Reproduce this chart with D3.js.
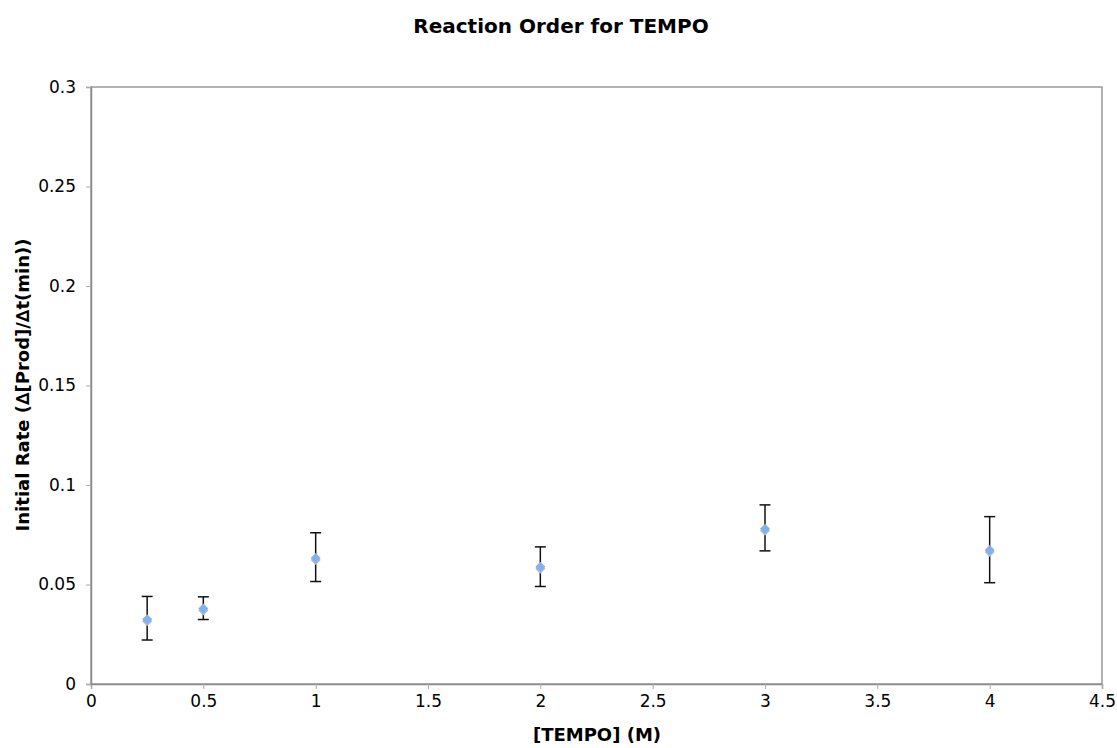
<!DOCTYPE html>
<html><head><meta charset="utf-8">
<script src="https://cdn.jsdelivr.net/npm/d3@7"></script>
<style>body{margin:0;background:#fff}svg{display:block}text{font-family:"DejaVu Sans",Verdana,sans-serif}</style>
</head><body>
<svg id="c" width="1117" height="748"></svg>
<script>
const concentrations = [0.25, 0.5, 1, 2, 3, 4];
const rates = [0.0326, 0.038, 0.0633, 0.0589, 0.078, 0.0673];
const errUpper = [0.044, 0.0438, 0.076, 0.0689, 0.090, 0.0841];
const errLower = [0.0221, 0.0324, 0.0515, 0.049, 0.0669, 0.0509];
const xTicks = [0, 0.5, 1, 1.5, 2, 2.5, 3, 3.5, 4, 4.5];
const yTicks = [0, 0.05, 0.1, 0.15, 0.2, 0.25, 0.3];

const svg = d3.select("#c");
const L = 91, R = 1102, T = 87, B = 684;
const x = d3.scaleLinear().domain([0, 4.5]).range([L, R]);
const y = d3.scaleLinear().domain([0, 0.3]).range([B, T]);

svg.append("rect").attr("x", L).attr("y", T).attr("width", R - L).attr("height", B - T)
  .attr("fill", "none").attr("stroke", "#999").attr("stroke-width", 1.5);

const xa = svg.append("g").attr("transform", `translate(0,${B})`)
  .call(d3.axisBottom(x).tickValues(xTicks).tickFormat(d => String(d)).tickSizeOuter(0).tickSize(5).tickPadding(6));
const ya = svg.append("g").attr("transform", `translate(${L},0)`)
  .call(d3.axisLeft(y).tickValues(yTicks).tickFormat(d => String(d)).tickSizeOuter(0).tickSize(5).tickPadding(10));
[xa, ya].forEach(a => {
  a.selectAll("path").attr("stroke", "#8c8c8c").attr("stroke-width", 1.5);
  a.selectAll("line").attr("stroke", "#aaa");
  a.selectAll("text").attr("font-size", 17).attr("fill", "#000").attr("font-family", "DejaVu Sans");
});

const data = concentrations.map((c, i) => ({c, r: rates[i], hi: errUpper[i], lo: errLower[i]}));
const g = svg.append("g");
g.selectAll("line.v").data(data).join("line")
  .attr("x1", d => x(d.c)).attr("x2", d => x(d.c)).attr("y1", d => y(d.hi)).attr("y2", d => y(d.lo))
  .attr("stroke", "#111").attr("stroke-width", 1.5);
["hi", "lo"].forEach(k => {
  g.selectAll("line." + k).data(data).join("line")
    .attr("x1", d => x(d.c) - 5.5).attr("x2", d => x(d.c) + 5.5).attr("y1", d => y(d[k])).attr("y2", d => y(d[k]))
    .attr("stroke", "#111").attr("stroke-width", 1.5);
});
const diamond = "M0,-5L5,0L0,5L-5,0Z";
g.selectAll("path.sh").data(data).join("path")
  .attr("d", diamond).attr("transform", d => `translate(${x(d.c)},${y(d.r) + 2})`).attr("fill", "#b8b8b8");
g.selectAll("path.pt").data(data).join("path")
  .attr("d", diamond).attr("transform", d => `translate(${x(d.c)},${y(d.r)})`).attr("fill", "#7fb2f2");

svg.append("text").attr("x", 561).attr("y", 33).attr("text-anchor", "middle")
  .attr("font-size", 20).attr("font-weight", "bold").text("Reaction Order for TEMPO");
svg.append("text").attr("x", 597).attr("y", 741).attr("text-anchor", "middle")
  .attr("font-size", 18).attr("font-weight", "bold").text("[TEMPO] (M)");
svg.append("text").attr("transform", `translate(29,385) rotate(-90)`).attr("text-anchor", "middle")
  .attr("font-size", 18).attr("font-weight", "bold").text("Initial Rate (∆[Prod]/∆t(min))");
</script>
</body></html>
